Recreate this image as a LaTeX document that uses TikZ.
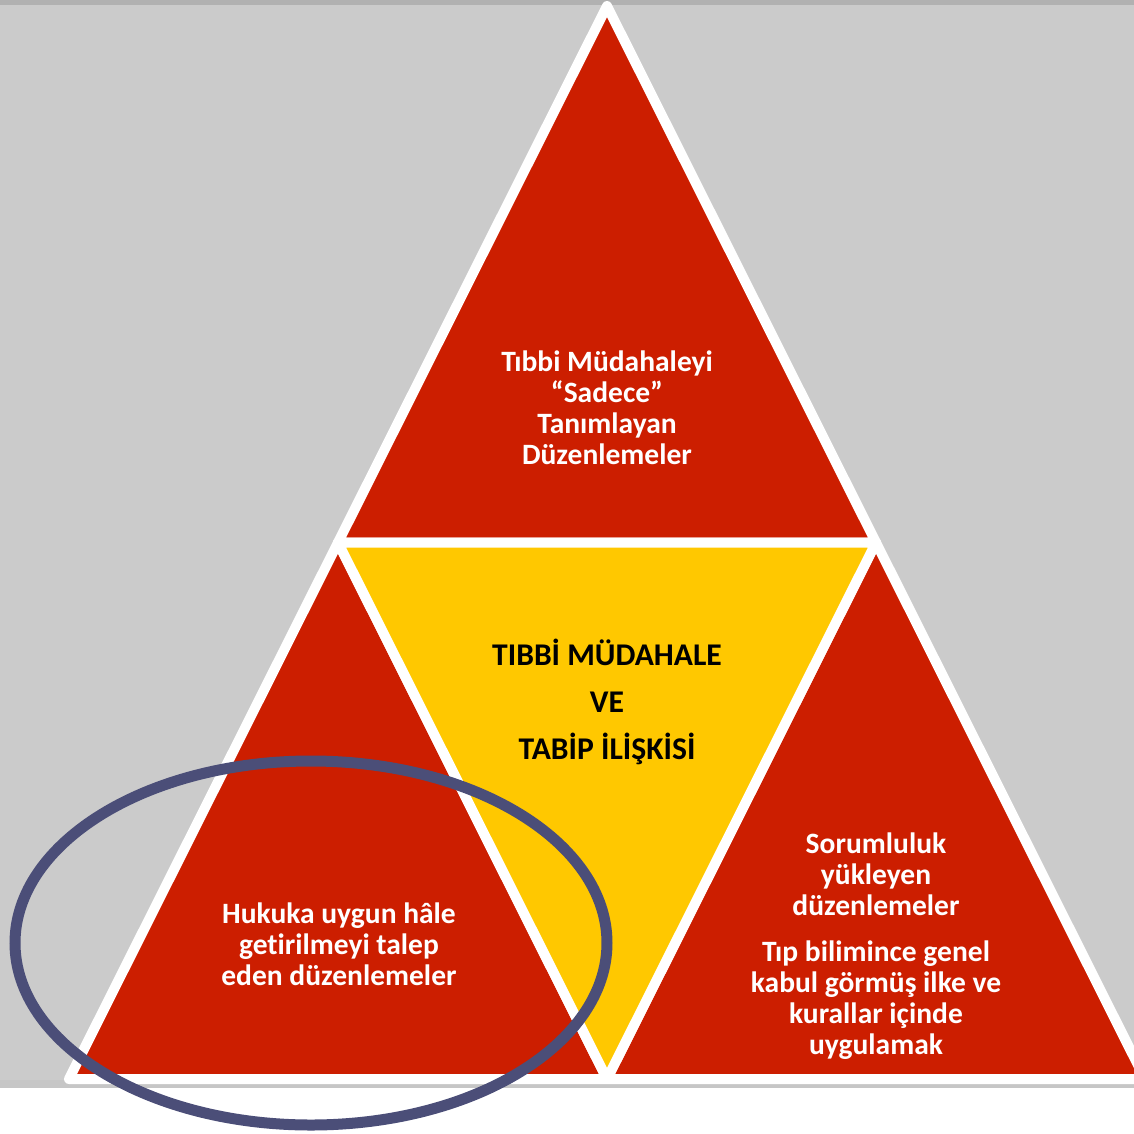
\documentclass[tikz,border=0pt]{standalone}
\usepackage{fontspec}
\setmainfont{Carlito}[Ligatures=NoCommon]
\definecolor{bggray}{HTML}{CBCBCB}
\definecolor{topgray}{HTML}{B1B1B1}
\definecolor{stripgray}{HTML}{C6C6C6}
\definecolor{trired}{HTML}{CC1E00}
\definecolor{triyellow}{HTML}{FFC800}
\definecolor{ringblue}{HTML}{4B4E78}
\tikzset{
  redtri/.style={fill=trired, draw=white, line width=0.2cm, line join=round},
  yeltri/.style={fill=triyellow, draw=white, line width=0.2cm, line join=round},
  redtext/.style={text=white, align=center, font=\bfseries\fontsize{16.8}{17.6}\selectfont},
  centertext/.style={text=black, align=center, font=\bfseries\fontsize{18}{26.6}\selectfont},
  ring/.style={draw=ringblue, line width=0.22cm}
}
\begin{document}
\begin{tikzpicture}[x=0.02cm, y=-0.02cm]
\useasboundingbox (0,0) rectangle (1134,1134);
\clip (0,0) rectangle (1134,1134);
\fill[white] (0,0) rectangle (1134,1134);
\fill[bggray] (0,0) rectangle (1134,1082);
\fill[topgray] (0,0) rectangle (1134,5);
\fill[stripgray] (0,1080) rectangle (1134,1088);
\coordinate (A) at (607,6);
\coordinate (L) at (69,1079);
\coordinate (R) at (1145,1079);
\coordinate (ML) at (338,542.5);
\coordinate (MR) at (876,542.5);
\coordinate (MB) at (607,1079);
\filldraw[redtri] (A) -- (ML) -- (MR) -- cycle;
\filldraw[redtri] (ML) -- (L) -- (MB) -- cycle;
\filldraw[redtri] (MR) -- (MB) -- (R) -- cycle;
\filldraw[yeltri] (ML) -- (MR) -- (MB) -- cycle;
\node[redtext] (top) at (607,408) {Tıbbi Müdahaleyi\\“Sadece”\\Tanımlayan\\Düzenlemeler};
\node[centertext] (mid) at (607,702) {TIBBİ MÜDAHALE\\VE\\TABİP İLİŞKİSİ};
\node[redtext] (left) at (339,944) {Hukuka uygun hâle\\getirilmeyi talep\\eden düzenlemeler};
\node[redtext] (right) at (876,946) {Sorumluluk\\yükleyen\\düzenlemeler\\[8.5pt]Tıp bilimince genel\\kabul görmüş ilke ve\\kurallar içinde\\uygulamak};
\draw[ring] (311,943) ellipse [x radius=296, y radius=182];
\end{tikzpicture}
\end{document}
